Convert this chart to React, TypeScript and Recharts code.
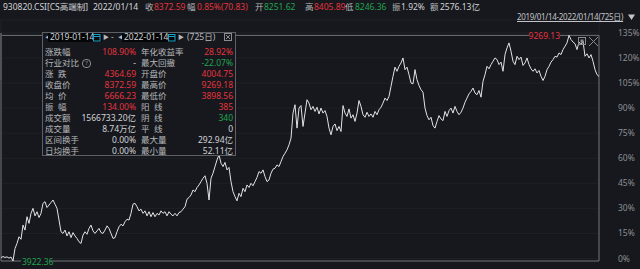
import React from 'react';
import { LineChart, Line, XAxis, YAxis, CartesianGrid, ReferenceArea, ReferenceDot } from 'recharts';

// Cumulative change (%) vs. start, sampled every ~2.4 trading days, 2019-01-14 .. 2022-01-14
const pctValues: number[] = [
  0.5, 1.2, 0.6, 1.0, 0.2, 0.9, -1.5, 6, 9, 13, 11.5, 20, 17, 25, 21, 27, 30, 25.5, 28, 24.5,
  27, 33, 34, 30.5, 32, 33.5, 35, 32.5, 30, 23, 16, 15, 17, 13.5, 16, 12.5, 15.5, 13.5, 12, 10,
  9, 14, 16, 14.5, 18, 20, 16.5, 15, 16.5, 18, 15.5, 15, 17, 19.5, 18, 15, 12, 12.5, 16, 19,
  20.5, 19.5, 22, 23.5, 23, 27, 32.5, 33, 31, 28.5, 29.5, 27, 28.5, 25.5, 28, 25, 27.5, 25, 27, 26,
  28.5, 27, 28, 25.5, 28, 26.5, 25.5, 27, 25.5, 27.5, 28, 29.5, 31, 35.5, 36.5, 38, 41, 40, 42.5, 44,
  46, 48, 49.5, 45, 35, 48, 51, 55, 59, 62, 57, 55, 57.5, 53, 54.5, 46, 40, 37, 34.5, 39,
  37, 42, 40, 44, 42.5, 45, 43.5, 46, 48.5, 52, 51, 53, 49, 46, 47, 51, 53.5, 54, 56, 55,
  58, 61, 63, 65, 68, 72, 87, 92, 78, 90, 91.5, 79, 87, 95, 93, 89, 91, 88, 90.5, 86.5,
  90, 87, 88.5, 85, 78, 74, 79, 80.5, 76.5, 79, 76, 91.5, 87, 85, 89.5, 84, 86, 82, 87, 94.5,
  91, 86, 84.5, 87.5, 85, 86.5, 84.5, 88, 86, 89, 90.5, 93, 96, 94.5, 97, 103, 109, 114.5, 112, 115,
  117, 120, 113, 114.5, 110, 105, 104.5, 113, 107, 103.5, 101, 99.5, 90, 85.5, 83, 84.5, 79.5, 78, 82, 85.5,
  83.5, 82.5, 88, 85, 88.5, 90, 87, 91, 88, 86, 87.5, 90, 93.5, 96, 98.5, 100, 102, 99, 98, 100.5,
  96.5, 106, 110, 115, 113.5, 116, 118, 120, 119, 116, 117.5, 112, 122, 126, 129, 124, 118, 116, 121, 119,
  120.5, 115.5, 117, 120, 116, 113.5, 112, 113.5, 111, 112.5, 109, 106.5, 109, 113, 115, 117.5, 119, 121, 120.5, 123,
  122, 125, 127, 129, 133.5, 131, 129.5, 128.5, 125, 129.5, 128, 130, 121, 122.5, 120, 122, 118, 113, 110, 108.9,
];

const yTicks = [0, 15, 30, 45, 60, 75, 90, 105, 120, 135];
const xGridTicks = [4, 21, 38, 54, 71, 88, 105, 121, 138, 155, 172, 188, 205, 222, 239, 255, 272, 289];

const maxPriceLabel = '9269.13';
const minPriceLabel = '3922.36';

const RED = '#e5343e';
const GREEN = '#22a450';
const WHITE = '#d2d3d6';
const GRAY = '#b7b8bb';
const BG = '#16181d';

const headerItems: { text: string; x: number; color: string }[] = [
  { text: '930820.CSI[CS高端制]', x: 3, color: WHITE },
  { text: '2022/01/14', x: 93, color: WHITE },
  { text: '收', x: 145, color: GRAY },
  { text: '8372.59', x: 154, color: RED },
  { text: '幅', x: 187, color: GRAY },
  { text: '0.85%(70.83)', x: 197, color: RED },
  { text: '开', x: 255, color: GRAY },
  { text: '8251.62', x: 264, color: GREEN },
  { text: '高', x: 305, color: GRAY },
  { text: '8405.89', x: 314, color: RED },
  { text: '低', x: 345, color: GRAY },
  { text: '8246.36', x: 355, color: GREEN },
  { text: '振', x: 392, color: GRAY },
  { text: '1.92%', x: 401, color: WHITE },
  { text: '额', x: 430, color: GRAY },
  { text: '2576.13亿', x: 440, color: WHITE },
];

const statLabelsLeft = ['涨跌幅', '行业对比', '涨  跌', '收盘价', '均  价', '振  幅', '成交额', '成交量', '区间换手', '日均换手'];
const statValuesLeft = ['108.90%', '-', '4364.69', '8372.59', '6666.23', '134.00%', '1566733.20亿', '8.74万亿', '0.00%', '0.00%'];
const statColorsLeft = [RED, WHITE, RED, RED, RED, RED, WHITE, WHITE, WHITE, WHITE];
const statLabelsRight = ['年化收益率', '最大回撤', '开盘价', '最高价', '最低价', '阳  线', '阴  线', '平  线', '最大量', '最小量'];
const statValuesRight = ['28.92%', '-22.07%', '4004.75', '9269.18', '3898.56', '385', '340', '0', '292.94亿', '52.11亿'];
const statColorsRight = [RED, GREEN, RED, RED, RED, RED, GREEN, WHITE, WHITE, WHITE];

const rangeStart = '2019-01-14';
const rangeEnd = '2022-01-14';
const rangeDays = '(725日)';
const rangeText = '2019/01/14-2022/01/14(725日)';

const data = pctValues.map((v, i) => ({ i, v }));
let maxIdx = 0;
let minIdx = 0;
pctValues.forEach((v, i) => {
  if (v > pctValues[maxIdx]) maxIdx = i;
  if (v < pctValues[minIdx]) minIdx = i;
});
const maxVal = pctValues[maxIdx];
const minVal = pctValues[minIdx];

const FONT = '"Noto Sans", "Noto Sans CJK SC", sans-serif';

const abs = (x: number, y: number, extra: React.CSSProperties = {}): React.CSSProperties => ({
  position: 'absolute',
  left: x,
  top: y,
  whiteSpace: 'pre',
  ...extra,
});

const CalIcon = ({ x }: { x: number }) => (
  <svg style={abs(x, 33)} width={8} height={9}>
    <rect x={0.5} y={1.5} width={6.5} height={6.5} fill="none" stroke="#1aa3c9" strokeWidth={1} />
    <line x1={0.5} y1={3.5} x2={7} y2={3.5} stroke="#1aa3c9" />
  </svg>
);

export default function App() {
  return (
    <div
      style={{
        position: 'absolute',
        left: 0,
        top: 0,
        width: 640,
        height: 269,
        background: BG,
        overflow: 'hidden',
        fontFamily: FONT,
        fontSize: 8.5,
      }}
    >
      <LineChart width={640} height={269} data={data} margin={{ top: 20, right: 0, bottom: 8, left: 1 }}>
        <CartesianGrid stroke="#1e2126" strokeWidth={1} />
        <XAxis
          dataKey="i"
          type="number"
          domain={[0, pctValues.length - 1]}
          ticks={xGridTicks}
          height={0}
          tick={false}
          axisLine={false}
          tickLine={false}
        />
        <YAxis
          orientation="right"
          width={41}
          domain={[-1.5, 142.7]}
          allowDataOverflow
          ticks={yTicks}
          tickFormatter={(v: number) => `${v}%`}
          tick={{ fill: '#8d8f94', fontSize: 8.5, textAnchor: 'start', fontFamily: FONT }}
          tickSize={0}
          tickMargin={19}
          axisLine={false}
          tickLine={false}
        />
        <ReferenceArea
          x1={0}
          x2={pctValues.length - 1}
          y1={minVal}
          y2={maxVal}
          fill="none"
          stroke="#6f7277"
          strokeWidth={1}
          ifOverflow="visible"
        />
        <Line
          type="linear"
          dataKey="v"
          stroke="#e2e3e5"
          strokeWidth={1}
          dot={false}
          isAnimationActive={false}
        />
        <ReferenceDot
          x={maxIdx}
          y={maxVal}
          r={1}
          ifOverflow="visible"
          shape={(p: any) => (
            <g>
              <rect x={p.cx - 40} y={p.cy - 5} width={31} height={10} fill={BG} />
              <text
                x={p.cx - 9}
                y={p.cy}
                textAnchor="end"
                dominantBaseline="central"
                fill={RED}
                fontSize={8.5}
                fontFamily={FONT}
              >
                {maxPriceLabel}
              </text>
            </g>
          )}
        />
        <ReferenceDot
          x={minIdx}
          y={minVal}
          r={1}
          ifOverflow="visible"
          shape={(p: any) => (
            <g>
              <rect x={p.cx + 8} y={p.cy - 5} width={29} height={10} fill={BG} />
              <text
                x={p.cx + 9}
                y={p.cy + 0.5}
                textAnchor="start"
                dominantBaseline="central"
                fill={GREEN}
                fontSize={8.5}
                fontFamily={FONT}
              >
                {minPriceLabel}
              </text>
            </g>
          )}
        />
      </LineChart>

      {/* header line */}
      {headerItems.map((h, k) => (
        <div key={k} style={abs(h.x, 1, { color: h.color, lineHeight: '12px' })}>
          {h.text}
        </div>
      ))}
      <div
        style={abs(517, 11, {
          color: '#c3c4c7',
          lineHeight: '12px',
          fontSize: 8,
          letterSpacing: '-0.3px',
          textDecoration: 'underline',
        })}
      >
        {rangeText}
      </div>
      <svg style={abs(628, 14)} width={8} height={7}>
        <polygon points="0,0.5 7,0.5 3.5,6" fill="#c3c4c7" />
      </svg>

      {/* left scroll mark */}
      <div style={abs(0, 33, { width: 2, height: 47, background: '#4e5156' })} />

      {/* box icons top-right */}
      <svg style={abs(577, 36)} width={24} height={11}>
        <rect x={1.5} y={1.5} width={7} height={7} fill="none" stroke="#8a8c90" />
        <rect x={3.5} y={3.5} width={3} height={3} fill="#8a8c90" />
        <line x1={12} y1={1} x2={21} y2={10} stroke="#8a8c90" />
        <line x1={21} y1={1} x2={12} y2={10} stroke="#8a8c90" />
      </svg>

      {/* stats box */}
      <div
        style={abs(42, 32, {
          width: 192,
          height: 122,
          background: BG,
          border: '1px solid #5d6066',
        })}
      />
      <div style={abs(45, 31, { color: GRAY, lineHeight: '12px', fontSize: 6 })}>◀</div>
      <div style={abs(48, 33, { width: 54, height: 9, background: '#050607' })} />
      <div style={abs(50, 31, { color: WHITE, lineHeight: '12px' })}>{rangeStart}</div>
      <CalIcon x={93} />
      <div style={abs(103, 31, { color: GRAY, lineHeight: '12px', fontSize: 6 })}>▶</div>
      <div style={abs(111, 31, { color: GRAY, lineHeight: '12px' })}>-</div>
      <div style={abs(118, 31, { color: GRAY, lineHeight: '12px', fontSize: 6 })}>◀</div>
      <div style={abs(122, 33, { width: 55, height: 9, background: '#050607' })} />
      <div style={abs(124, 31, { color: WHITE, lineHeight: '12px' })}>{rangeEnd}</div>
      <CalIcon x={168} />
      <div style={abs(178, 31, { color: GRAY, lineHeight: '12px', fontSize: 6 })}>▶</div>
      <div style={abs(187, 31, { color: GRAY, lineHeight: '12px' })}>{rangeDays}</div>
      <svg style={abs(224, 33)} width={9} height={9}>
        <rect x={0.5} y={0.5} width={7} height={7} fill="none" stroke="#8a8c90" />
        <line x1={2} y1={2} x2={6} y2={6} stroke="#8a8c90" />
        <line x1={6} y1={2} x2={2} y2={6} stroke="#8a8c90" />
      </svg>

      {statLabelsLeft.map((t, k) => (
        <div key={'ll' + k} style={abs(45, 46 + 11 * k, { color: GRAY, lineHeight: '11px' })}>
          {t}
          {k === 1 ? (
            <span
              style={{
                display: 'inline-block',
                marginLeft: 3,
                width: 7,
                height: 7,
                lineHeight: '7px',
                borderRadius: 4,
                border: '1px solid #8a8c90',
                fontSize: 6,
                textAlign: 'center',
                color: '#8a8c90',
                verticalAlign: 'middle',
              }}
            >
              ?
            </span>
          ) : null}
        </div>
      ))}
      {statValuesLeft.map((t, k) => (
        <div
          key={'lv' + k}
          style={abs(60, 46 + 11 * k, { width: 76, textAlign: 'right', color: statColorsLeft[k], lineHeight: '11px' })}
        >
          {t}
        </div>
      ))}
      {statLabelsRight.map((t, k) => (
        <div key={'rl' + k} style={abs(141, 46 + 11 * k, { color: GRAY, lineHeight: '11px' })}>
          {t}
        </div>
      ))}
      {statValuesRight.map((t, k) => (
        <div
          key={'rv' + k}
          style={abs(183, 46 + 11 * k, { width: 50, textAlign: 'right', color: statColorsRight[k], lineHeight: '11px' })}
        >
          {t}
        </div>
      ))}
    </div>
  );
}
